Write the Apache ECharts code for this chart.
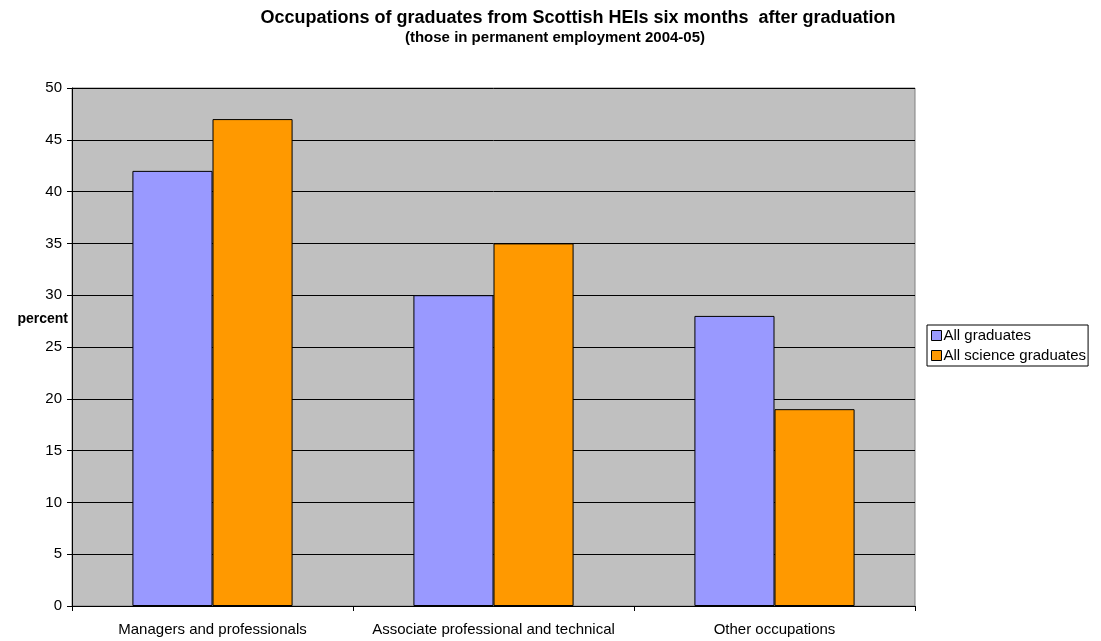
<!DOCTYPE html>
<html><head><meta charset="utf-8">
<script src="https://cdn.jsdelivr.net/npm/echarts@6/dist/echarts.min.js"></script>
<style>html,body{margin:0;padding:0;background:#fff}#c{width:1101px;height:641px}</style>
</head><body><div id="c"></div>
<script>
const categories = ['Managers and professionals', 'Associate professional and technical', 'Other occupations'];
const allGraduates = [42, 30, 28];
const allScienceGraduates = [47, 35, 19];
const seriesNames = ['All graduates', 'All science graduates'];

const chart = echarts.init(document.getElementById('c'));
const F = 'Liberation Sans, Arial, sans-serif';
chart.setOption({
  animation: false,
  backgroundColor: '#fff',
  title: [{
    text: 'Occupations of graduates from Scottish HEIs six months  after graduation',
    left: 578, top: 9, textAlign: 'center', padding: 0,
    textStyle: {fontFamily: F, fontSize: 18, fontWeight: 'bold', color: '#000'}
  }, {
    text: '(those in permanent employment 2004-05)',
    left: 555, top: 30, textAlign: 'center', padding: 0,
    textStyle: {fontFamily: F, fontSize: 15, fontWeight: 'bold', color: '#000'}
  }],
  legend: {
    orient: 'vertical', left: 927, top: 325,
    itemWidth: 10, itemHeight: 10, itemGap: 5, padding: [3, 2, 3, 4],
    borderColor: '#000', borderWidth: 1, borderRadius: 0,
    icon: 'rect',
    itemStyle: {borderColor: '#000', borderWidth: 1},
    textStyle: {fontFamily: F, fontSize: 15, color: '#000', padding: [0, 0, 0, -3]},
    data: seriesNames
  },
  graphic: [{
    type: 'text', right: 1101 - 68, top: 312,
    style: {text: 'percent', fontFamily: F, fontSize: 14, fontWeight: 'bold', fill: '#000'}
  }],
  grid: {left: 72, right: 186, top: 88, bottom: 35, show: true, backgroundColor: '#C0C0C0', borderColor: '#808080', borderWidth: 1},
  xAxis: {
    type: 'category', data: categories,
    axisLine: {lineStyle: {color: '#000'}},
    axisTick: {show: true, length: 5, lineStyle: {color: '#000'}},
    axisLabel: {fontFamily: F, fontSize: 15, color: '#000', margin: 16, interval: 0, hideOverlap: false}
  },
  yAxis: {
    type: 'value', min: 0, max: 50, interval: 5,
    axisLine: {show: true, lineStyle: {color: '#000'}},
    axisTick: {show: true, length: 5, lineStyle: {color: '#000'}},
    axisLabel: {fontFamily: F, fontSize: 15, color: '#000', margin: 10},
    splitLine: {lineStyle: {color: '#000', width: 1}}
  },
  series: [
    {name: seriesNames[0], type: 'bar', data: allGraduates, barGap: '0%', barCategoryGap: '43%',
     itemStyle: {color: '#9999FF', borderColor: '#000', borderWidth: 1}},
    {name: seriesNames[1], type: 'bar', data: allScienceGraduates,
     itemStyle: {color: '#FF9900', borderColor: '#000', borderWidth: 1}}
  ]
});
</script></body></html>
